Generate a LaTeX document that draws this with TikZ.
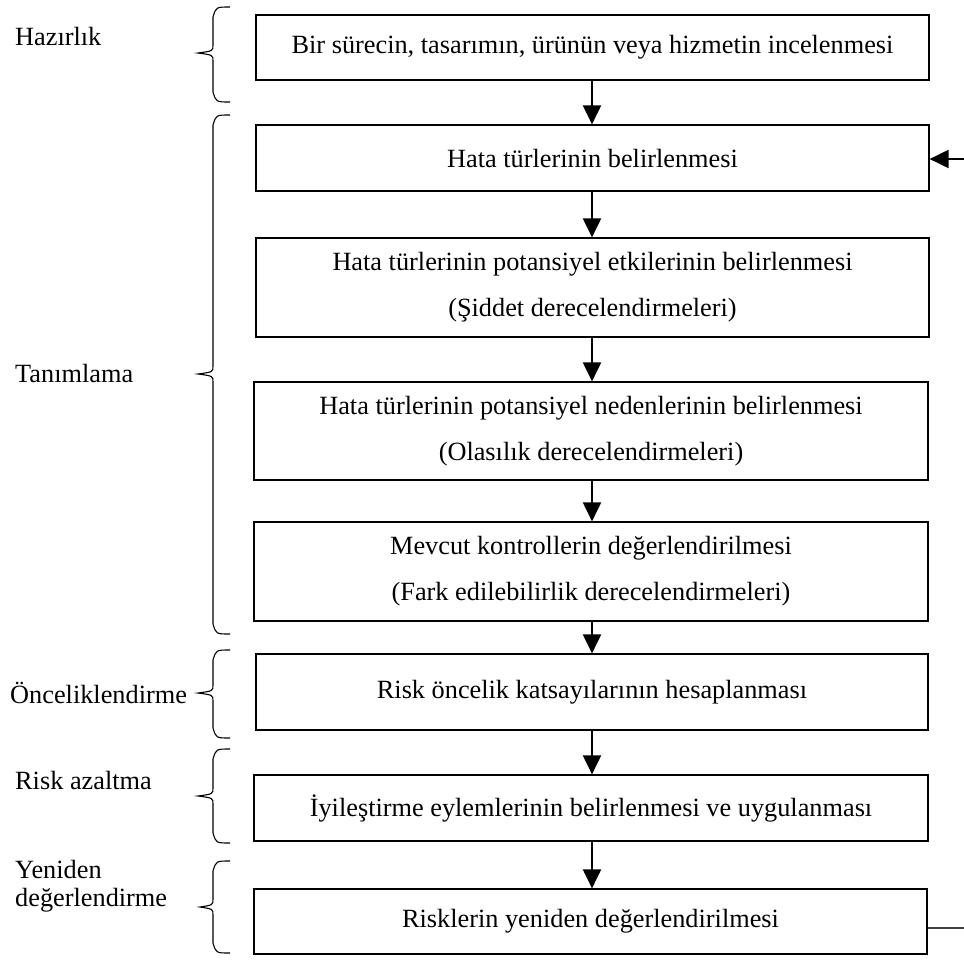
\documentclass[tikz,border=0pt]{standalone}
\usepackage{fontspec}
\setmainfont{Liberation Serif}
\usetikzlibrary{arrows.meta}
\begin{document}
\begin{tikzpicture}[x=1pt,y=-1pt,
  stepbox/.style={draw,line width=1.2pt,inner sep=0pt,align=center,
    font=\fontsize{26.3}{46}\selectfont},
  phase/.style={anchor=west,inner sep=0pt,align=left,
    font=\fontsize{26.3}{28}\selectfont},
  flow/.style={line width=2pt,-{Triangle[width=18pt,length=19pt]}},
  bracepath/.style={line width=1.1pt}]
\useasboundingbox (0,0) rectangle (964,959);

% process steps
\node[stepbox,minimum width=673pt,minimum height=65pt] (b1) at (592.5,47.5)
  {Bir sürecin, tasarımın, ürünün veya hizmetin incelenmesi};
\node[stepbox,minimum width=673pt,minimum height=66pt] (b2) at (592.5,158)
  {Hata türlerinin belirlenmesi};
\node[stepbox,minimum width=673pt,minimum height=99pt] (b3) at (592.5,287.5)
  {Hata türlerinin potansiyel etkilerinin belirlenmesi\\(Şiddet derecelendirmeleri)};
\node[stepbox,minimum width=674pt,minimum height=98pt] (b4) at (591,431)
  {Hata türlerinin potansiyel nedenlerinin belirlenmesi\\(Olasılık derecelendirmeleri)};
\node[stepbox,minimum width=674pt,minimum height=99pt] (b5) at (591,571.5)
  {Mevcut kontrollerin değerlendirilmesi\\(Fark edilebilirlik derecelendirmeleri)};
\node[stepbox,minimum width=672pt,minimum height=76pt] (b6) at (592,692)
  {Risk öncelik katsayılarının hesaplanması};
\node[stepbox,minimum width=674pt,minimum height=66pt] (b7) at (591,808)
  {İyileştirme eylemlerinin belirlenmesi ve uygulanması};
\node[stepbox,minimum width=673pt,minimum height=65pt] (b8) at (590.5,921.5)
  {Risklerin yeniden değerlendirilmesi};

% phase labels
\node[phase] (p1) at (15,37) {Hazırlık};
\node[phase] (p2) at (15,373) {Tanımlama};
\node[phase] (p3) at (10,693) {Önceliklendirme};
\node[phase] (p4) at (15,780) {Risk azaltma};
\node[phase] (p5) at (15,886) {Yeniden\\değerlendirme};

% flow arrows on a common vertical axis
\coordinate (axis) at (592,0);
\foreach \a/\b in {b1/b2,b2/b3,b3/b4,b4/b5,b5/b6,b6/b7,b7/b8}
  \draw[flow] (\a.south -| axis) -- (\b.north -| axis);

% feedback loop ends at the page edge
\coordinate (fbin) at (964,159);
\coordinate (fbout) at (964,928);
\draw[flow] (fbin) -- (b2.east |- fbin);
\draw[line width=1.3pt,black!75] (b8.east |- fbout) -- (fbout);

% curly braces grouping the steps
\foreach \t/\m/\bt/\tip in {7/53/102/198, 115/374/634/198, 650/693/738/198,
                             749/796/843/198, 861/907/953/200}{
  \draw[bracepath] (230,\t) .. controls (216,\t) .. (213,\t+10)
    -- (213,\m-8) .. controls (213,\m-2) .. (\tip,\m)
    .. controls (213,\m+2) .. (213,\m+8)
    -- (213,\bt-10) .. controls (216,\bt) .. (230,\bt);
}
\end{tikzpicture}
\end{document}
